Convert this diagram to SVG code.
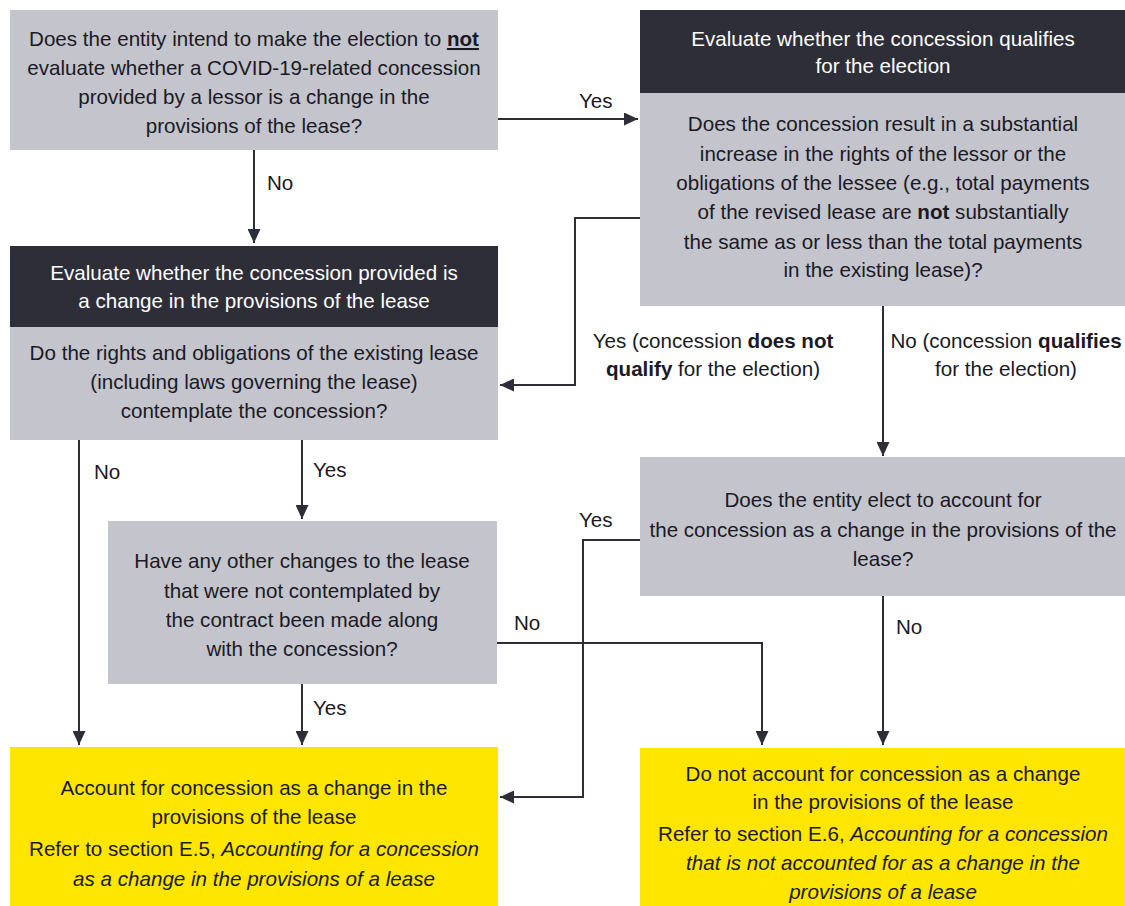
<svg xmlns="http://www.w3.org/2000/svg" width="1125" height="906" viewBox="0 0 1125 906">
<style>
.q{fill:#c4c4cd}
.h{fill:#2e2e38}
.y{fill:#ffe600}
text{font-family:"Liberation Sans",Arial,sans-serif;font-size:20.6px;fill:#1a1a24;text-anchor:middle}
.w{fill:#ffffff}
.l{text-anchor:start}
.b{font-weight:bold}
.i{font-style:italic}
.c{fill:none;stroke:#2e2e38;stroke-width:2}
</style>
<defs>
<marker id="ah" viewBox="0 0 14 13" refX="14" refY="6.5" markerWidth="14" markerHeight="13" orient="auto" markerUnits="userSpaceOnUse">
<path d="M0,0 L14,6.5 L0,13 z" fill="#2e2e38"/>
</marker>
</defs>
<rect width="1125" height="906" fill="#ffffff"/>
<g id="connectors">
<path class="c" d="M498,119 H638" marker-end="url(#ah)"/>
<path class="c" d="M254,150 V243" marker-end="url(#ah)"/>
<path class="c" d="M640,218 H575 V385 H500" marker-end="url(#ah)"/>
<path class="c" d="M883,306 V456" marker-end="url(#ah)"/>
<path class="c" d="M79,440 V745" marker-end="url(#ah)"/>
<path class="c" d="M302,440 V519" marker-end="url(#ah)"/>
<path class="c" d="M302,684 V745" marker-end="url(#ah)"/>
<path class="c" d="M497,643 H762 V745" marker-end="url(#ah)"/>
<path class="c" d="M640,540 H583 V797 H500" marker-end="url(#ah)"/>
<path class="c" d="M883,596 V745" marker-end="url(#ah)"/>
<text class="l" x="579" y="108">Yes</text>
<text class="l" x="267" y="190">No</text>
<text x="713" y="348">Yes (concession <tspan class="b">does not</tspan></text>
<text x="713" y="376"><tspan class="b">qualify</tspan> for the election)</text>
<text x="1006" y="348">No (concession <tspan class="b">qualifies</tspan></text>
<text x="1006" y="376">for the election)</text>
<text class="l" x="94" y="479">No</text>
<text class="l" x="313" y="477">Yes</text>
<text class="l" x="313" y="715">Yes</text>
<text class="l" x="514" y="630">No</text>
<text class="l" x="579" y="527">Yes</text>
<text class="l" x="896" y="634">No</text>
</g>
<g id="node-a">
<rect class="q" x="10" y="10" width="488" height="140"/>
<text x="254" y="46">Does the entity intend to make the election to <tspan class="b" text-decoration="underline">not</tspan></text>
<text x="254" y="75">evaluate whether a COVID-19-related concession</text>
<text x="254" y="104">provided by a lessor is a change in the</text>
<text x="254" y="133">provisions of the lease?</text>
</g>
<g id="node-b">
<rect class="h" x="640" y="10" width="485" height="83"/>
<rect class="q" x="640" y="93" width="485" height="213"/>
<text class="w" x="883" y="46">Evaluate whether the concession qualifies</text>
<text class="w" x="883" y="73">for the election</text>
<text x="883" y="131">Does the concession result in a substantial</text>
<text x="883" y="161">increase in the rights of the lessor or the</text>
<text x="883" y="190">obligations of the lessee (e.g., total payments</text>
<text x="883" y="219">of the revised lease are <tspan class="b">not</tspan> substantially</text>
<text x="883" y="249">the same as or less than the total payments</text>
<text x="883" y="277">in the existing lease)?</text>
</g>
<g id="node-c">
<rect class="h" x="10" y="246" width="488" height="81"/>
<rect class="q" x="10" y="327" width="488" height="113"/>
<text class="w" x="254" y="280">Evaluate whether the concession provided is</text>
<text class="w" x="254" y="308">a change in the provisions of the lease</text>
<text x="254" y="360">Do the rights and obligations of the existing lease</text>
<text x="254" y="389">(including laws governing the lease)</text>
<text x="254" y="418">contemplate the concession?</text>
</g>
<g id="node-d">
<rect class="q" x="640" y="457" width="485" height="139"/>
<text x="883" y="507">Does the entity elect to account for</text>
<text x="883" y="537">the concession as a change in the provisions of the</text>
<text x="883" y="566">lease?</text>
</g>
<g id="node-e">
<rect class="q" x="108" y="521" width="389" height="163"/>
<text x="302" y="568">Have any other changes to the lease</text>
<text x="302" y="598">that were not contemplated by</text>
<text x="302" y="627">the contract been made along</text>
<text x="302" y="656">with the concession?</text>
</g>
<g id="node-f">
<rect class="y" x="10" y="747" width="488" height="159"/>
<text x="254" y="795">Account for concession as a change in the</text>
<text x="254" y="824">provisions of the lease</text>
<text x="254" y="856">Refer to section E.5, <tspan class="i">Accounting for a concession</tspan></text>
<text class="i" x="254" y="886">as a change in the provisions of a lease</text>
</g>
<g id="node-g">
<rect class="y" x="640" y="748" width="485" height="158"/>
<text x="883" y="781">Do not account for concession as a change</text>
<text x="883" y="809">in the provisions of the lease</text>
<text x="883" y="841">Refer to section E.6, <tspan class="i">Accounting for a concession</tspan></text>
<text class="i" x="883" y="870">that is not accounted for as a change in the</text>
<text class="i" x="883" y="899">provisions of a lease</text>
</g>
</svg>
